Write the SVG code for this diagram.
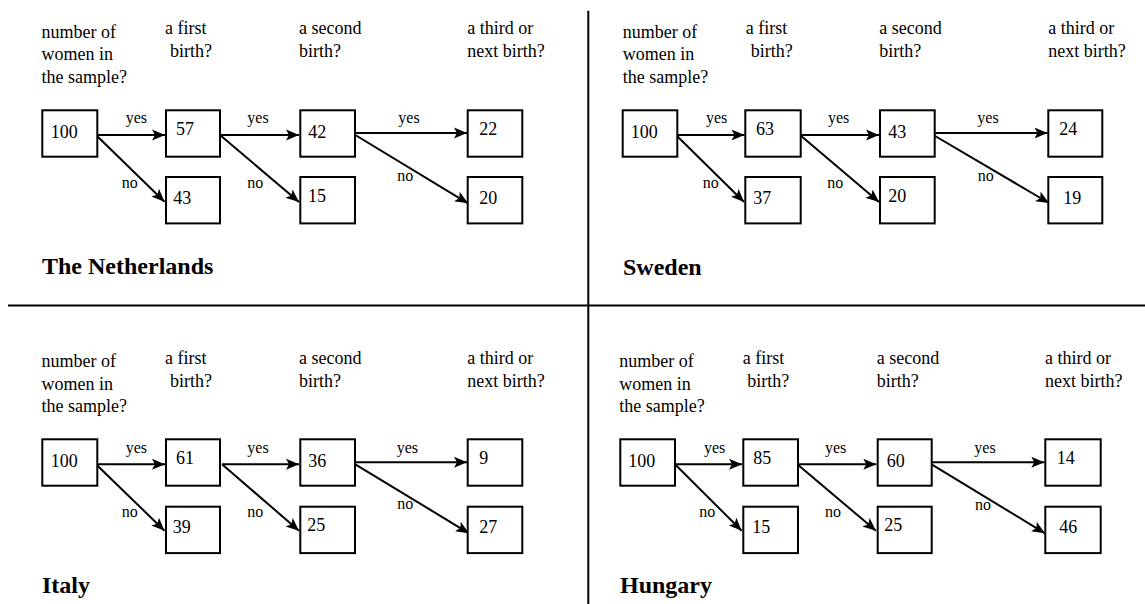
<svg xmlns="http://www.w3.org/2000/svg" width="1145" height="604" viewBox="0 0 1145 604">
<style>
.t{font-family:"Liberation Serif","Times New Roman",serif;font-size:18px;fill:#000}
.l{font-family:"Liberation Serif","Times New Roman",serif;font-size:16px;fill:#000}
.h{font-family:"Liberation Serif","Times New Roman",serif;font-size:24px;font-weight:bold;fill:#000}
.b{fill:#fff;stroke:#000;stroke-width:2}
.c line{stroke:#000;stroke-width:2;marker-end:url(#ah)}
.d{stroke:#000;stroke-width:2}
</style>
<defs>
<marker id="ah" markerUnits="userSpaceOnUse" markerWidth="14" markerHeight="12" refX="13" refY="6" orient="auto">
<path d="M0,0.5 L13,6 L0,11.5 L3,6 Z" fill="#000"/>
</marker>
</defs>
<rect width="1145" height="604" fill="#fff"/>
<g id="dividers">
<line class="d" x1="588.3" y1="10.7" x2="588.3" y2="604"/>
<line class="d" x1="8" y1="305.5" x2="1145" y2="305.5"/>
</g>

<g id="nl-headers">
<text class="t" x="41.5" y="37.7">number of</text>
<text class="t" x="41.5" y="60.2">women in</text>
<text class="t" x="41.5" y="82.5">the sample?</text>
<text class="t" x="165" y="34.3">a first</text>
<text class="t" x="170" y="57">birth?</text>
<text class="t" x="299" y="34.3">a second</text>
<text class="t" x="299" y="57">birth?</text>
<text class="t" x="467.3" y="34.3">a third or</text>
<text class="t" x="467.3" y="57">next birth?</text>
<text class="h" x="42" y="274">The Netherlands</text>
</g>
<g id="nl-connectors" class="c">
<line x1="96" y1="135" x2="165" y2="135"/>
<line x1="96" y1="135" x2="164.5" y2="201.7"/>
<line x1="220" y1="135" x2="299" y2="135"/>
<line x1="220" y1="135" x2="299" y2="202"/>
<line x1="352" y1="133" x2="467" y2="133"/>
<line x1="352" y1="133" x2="468" y2="203.3"/>
</g>
<g id="nl-labels">
<text class="l" x="125.7" y="123.3">yes</text>
<text class="l" x="121.7" y="187.7">no</text>
<text class="l" x="247.3" y="123.3">yes</text>
<text class="l" x="247.3" y="187.7">no</text>
<text class="l" x="398.3" y="123.3">yes</text>
<text class="l" x="397.3" y="181">no</text>
</g>
<g id="nl-100"><rect class="b" x="42.3" y="110.3" width="55" height="46.4"/><text class="t" x="50.7" y="137.7">100</text></g>
<g id="nl-57"><rect class="b" x="166" y="110.3" width="54" height="46.4"/><text class="t" x="176" y="135">57</text></g>
<g id="nl-43"><rect class="b" x="166" y="177" width="54" height="46.4"/><text class="t" x="173.3" y="204">43</text></g>
<g id="nl-42"><rect class="b" x="300.3" y="110.3" width="54.7" height="46.4"/><text class="t" x="308.3" y="137.7">42</text></g>
<g id="nl-15"><rect class="b" x="300.3" y="177" width="54.7" height="46.4"/><text class="t" x="308" y="201.7">15</text></g>
<g id="nl-22"><rect class="b" x="467.7" y="110.3" width="54.6" height="46.4"/><text class="t" x="479.3" y="135">22</text></g>
<g id="nl-20"><rect class="b" x="467.7" y="177" width="54.6" height="46.4"/><text class="t" x="479.3" y="204">20</text></g>

<g id="se-headers">
<text class="t" x="622.7" y="37.7">number of</text>
<text class="t" x="622.7" y="60.2">women in</text>
<text class="t" x="622.7" y="82.5">the sample?</text>
<text class="t" x="745.7" y="34.3">a first</text>
<text class="t" x="750.7" y="57">birth?</text>
<text class="t" x="879.3" y="34.3">a second</text>
<text class="t" x="879.3" y="57">birth?</text>
<text class="t" x="1048.3" y="34.3">a third or</text>
<text class="t" x="1048.3" y="57">next birth?</text>
<text class="h" x="623" y="275">Sweden</text>
</g>
<g id="se-connectors" class="c">
<line x1="676" y1="135" x2="744.5" y2="135"/>
<line x1="676" y1="135" x2="744" y2="202"/>
<line x1="800" y1="135" x2="879" y2="135"/>
<line x1="800" y1="135" x2="879" y2="202"/>
<line x1="930" y1="133" x2="1047.5" y2="133"/>
<line x1="930" y1="133" x2="1049" y2="203"/>
</g>
<g id="se-labels">
<text class="l" x="706" y="123.3">yes</text>
<text class="l" x="702.7" y="187.7">no</text>
<text class="l" x="828" y="123.3">yes</text>
<text class="l" x="827.3" y="187.7">no</text>
<text class="l" x="977.3" y="123.3">yes</text>
<text class="l" x="977.7" y="181">no</text>
</g>
<g id="se-100"><rect class="b" x="622.7" y="110.3" width="54.6" height="46.4"/><text class="t" x="630.7" y="137.7">100</text></g>
<g id="se-63"><rect class="b" x="745.3" y="110.3" width="55.4" height="46.4"/><text class="t" x="756" y="135">63</text></g>
<g id="se-37"><rect class="b" x="745.3" y="177" width="55.4" height="46.4"/><text class="t" x="753.3" y="204">37</text></g>
<g id="se-43"><rect class="b" x="880" y="110.3" width="54.7" height="46.4"/><text class="t" x="888.3" y="137.7">43</text></g>
<g id="se-20"><rect class="b" x="880" y="177" width="54.7" height="46.4"/><text class="t" x="888.3" y="201.7">20</text></g>
<g id="se-24"><rect class="b" x="1048.3" y="110.3" width="54" height="46.4"/><text class="t" x="1059.3" y="135">24</text></g>
<g id="se-19"><rect class="b" x="1048.3" y="177" width="54" height="46.4"/><text class="t" x="1063.3" y="204">19</text></g>

<g id="it-headers">
<text class="t" x="41.5" y="367.3">number of</text>
<text class="t" x="41.5" y="389.8">women in</text>
<text class="t" x="41.5" y="412">the sample?</text>
<text class="t" x="165" y="364.3">a first</text>
<text class="t" x="170" y="386.7">birth?</text>
<text class="t" x="299" y="364.3">a second</text>
<text class="t" x="299" y="386.7">birth?</text>
<text class="t" x="467.3" y="364.3">a third or</text>
<text class="t" x="467.3" y="386.7">next birth?</text>
<text class="h" x="42" y="593.3">Italy</text>
</g>
<g id="it-connectors" class="c">
<line x1="96" y1="464.3" x2="165" y2="464.3"/>
<line x1="96" y1="464.3" x2="164.5" y2="530.7"/>
<line x1="222" y1="464.3" x2="299" y2="464.3"/>
<line x1="222" y1="464.3" x2="299" y2="530.7"/>
<line x1="352" y1="462.3" x2="467" y2="462.3"/>
<line x1="352" y1="462.3" x2="469" y2="533.3"/>
</g>
<g id="it-labels">
<text class="l" x="125.7" y="452.7">yes</text>
<text class="l" x="121.7" y="517.3">no</text>
<text class="l" x="247.3" y="452.7">yes</text>
<text class="l" x="247.3" y="517.3">no</text>
<text class="l" x="396.7" y="452.7">yes</text>
<text class="l" x="397.3" y="509">no</text>
</g>
<g id="it-100"><rect class="b" x="42.3" y="439.3" width="55" height="46.4"/><text class="t" x="50.7" y="467.3">100</text></g>
<g id="it-61"><rect class="b" x="166" y="439.3" width="54" height="46.4"/><text class="t" x="176" y="464.3">61</text></g>
<g id="it-39"><rect class="b" x="166" y="506.7" width="54" height="46.4"/><text class="t" x="172.7" y="533.3">39</text></g>
<g id="it-36"><rect class="b" x="300.3" y="439.3" width="54.7" height="46.4"/><text class="t" x="308.3" y="467.3">36</text></g>
<g id="it-25"><rect class="b" x="300.3" y="506.7" width="54.7" height="46.4"/><text class="t" x="307.3" y="530.7">25</text></g>
<g id="it-9"><rect class="b" x="467.7" y="439.3" width="54.6" height="46.4"/><text class="t" x="479.3" y="464.3">9</text></g>
<g id="it-27"><rect class="b" x="467.7" y="506.7" width="54.6" height="46.4"/><text class="t" x="479.3" y="533.3">27</text></g>

<g id="hu-headers">
<text class="t" x="619.3" y="367.3">number of</text>
<text class="t" x="619.3" y="389.8">women in</text>
<text class="t" x="619.3" y="412">the sample?</text>
<text class="t" x="742.7" y="364.3">a first</text>
<text class="t" x="747.3" y="386.7">birth?</text>
<text class="t" x="876.7" y="364.3">a second</text>
<text class="t" x="876.7" y="386.7">birth?</text>
<text class="t" x="1045" y="364.3">a third or</text>
<text class="t" x="1045" y="386.7">next birth?</text>
<text class="h" x="620" y="593.3">Hungary</text>
</g>
<g id="hu-connectors" class="c">
<line x1="675" y1="464.3" x2="742" y2="464.3"/>
<line x1="675" y1="464.3" x2="741.7" y2="530.7"/>
<line x1="797.3" y1="464.3" x2="876.3" y2="464.3"/>
<line x1="797.3" y1="464.3" x2="876" y2="530.7"/>
<line x1="928.3" y1="462.3" x2="1044.3" y2="462.3"/>
<line x1="928.3" y1="462.3" x2="1045" y2="533.3"/>
</g>
<g id="hu-labels">
<text class="l" x="704" y="452.7">yes</text>
<text class="l" x="699.3" y="517.3">no</text>
<text class="l" x="825" y="452.7">yes</text>
<text class="l" x="825" y="517.3">no</text>
<text class="l" x="974.3" y="452.7">yes</text>
<text class="l" x="975" y="510">no</text>
</g>
<g id="hu-100"><rect class="b" x="620.3" y="439.3" width="54.7" height="46.4"/><text class="t" x="628.3" y="467.3">100</text></g>
<g id="hu-85"><rect class="b" x="743.3" y="439.3" width="54.7" height="46.4"/><text class="t" x="753.3" y="464.3">85</text></g>
<g id="hu-15"><rect class="b" x="743.3" y="506.7" width="54.7" height="46.4"/><text class="t" x="752.3" y="533.3">15</text></g>
<g id="hu-60"><rect class="b" x="877.7" y="439.3" width="54" height="46.4"/><text class="t" x="886.7" y="467.3">60</text></g>
<g id="hu-25"><rect class="b" x="877.7" y="506.7" width="54" height="46.4"/><text class="t" x="884.3" y="530.7">25</text></g>
<g id="hu-14"><rect class="b" x="1045.3" y="439.3" width="55.4" height="46.4"/><text class="t" x="1056.7" y="464.3">14</text></g>
<g id="hu-46"><rect class="b" x="1045.3" y="506.7" width="55.4" height="46.4"/><text class="t" x="1059.3" y="533.3">46</text></g>
</svg>
